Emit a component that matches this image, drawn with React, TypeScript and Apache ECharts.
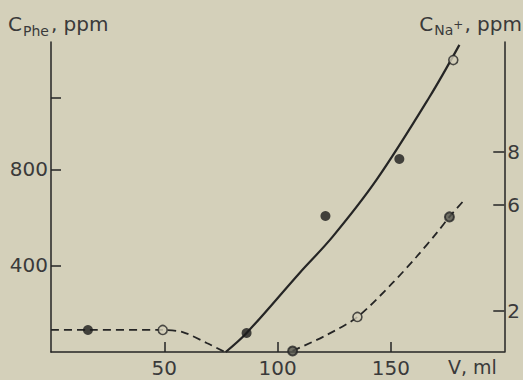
import React, { useEffect, useRef } from "react";
import * as echarts from "echarts";

// Axis ticks / labels
const volumeTicks = [50, 100, 150];
const pheTicks = [400, 800, 1100];
const pheLabels = [400, 800];
const naTicks = [2, 6, 8];

// Solid curve: C(Phe), ppm (left axis) vs V, ml
const pheCurveV = [77.1, 86.3, 109.7, 124.2, 143.6, 167.0, 180.2];
const pheCurveC = [40, 119, 369, 519, 756, 1101, 1318];

// Dashed curve: C(Na+), ppm (right axis) vs V, ml — two segments
const naLeftV = [0, 16.3, 49.3, 58.1, 68.7, 76.7];
const naLeftC = [1.28, 1.28, 1.28, 1.2, 0.79, 0.45];
const naRightV = [106.6, 121.6, 135.2, 150.7, 161.2, 170.5, 175.8, 182.8];
const naRightC = [0.49, 1.09, 1.77, 3.05, 4.03, 4.97, 5.54, 6.22];

// Measured points
const pheFilledV = [86.3, 121.1, 153.7];
const pheFilledC = [119, 606, 843];
const pheOpenV = [177.5];
const pheOpenC = [1255];
const naFilledV = [16.3];
const naFilledC = [1.28];
const naOpenV = [49.3, 135.2];
const naOpenC = [1.28, 1.77];
const naHalfV = [106.6, 175.8];
const naHalfC = [0.49, 5.54];

const zip = (a: number[], b: number[]) => a.map((v, i) => [v, b[i]]);

const FONT = "DejaVu Sans";
const INK = "#252525";
const TEXT = "#3a3a3a";
const BG = "#d4d0ba";

export default function App() {
  const ref = useRef<HTMLDivElement>(null);
  useEffect(() => {
    if (!ref.current) return;
    const chart = echarts.init(ref.current, undefined, { renderer: "svg" });
    const axisLine = { show: true, onZero: false, lineStyle: { color: INK, width: 1.5 } };
    const labelStyle = { color: TEXT, fontSize: 20, fontFamily: FONT };
    chart.setOption({
      animation: false,
      backgroundColor: BG,
      grid: { left: 51, right: 18, top: 42, bottom: 28, containLabel: false },
      xAxis: {
        type: "value",
        min: 0,
        max: 200,
        axisLine,
        axisTick: { show: true, inside: true, length: 10, customValues: volumeTicks, lineStyle: { color: INK, width: 1.5 } },
        axisLabel: { ...labelStyle, margin: 6, customValues: volumeTicks },
        splitLine: { show: false },
      },
      yAxis: [
        {
          type: "value",
          position: "left",
          min: 40,
          max: 1330,
          axisLine,
          axisTick: { show: true, inside: true, length: 10, customValues: pheTicks, lineStyle: { color: INK, width: 1.5 } },
          axisLabel: { ...labelStyle, margin: 3, customValues: pheLabels },
          splitLine: { show: false },
        },
        {
          type: "value",
          position: "right",
          min: 0.45,
          max: 12.13,
          axisLine,
          axisTick: { show: true, inside: true, length: 11, customValues: naTicks, lineStyle: { color: INK, width: 1.5 } },
          axisLabel: { ...labelStyle, margin: 3, customValues: naTicks },
          splitLine: { show: false },
        },
      ],
      series: [
        {
          type: "line",
          yAxisIndex: 0,
          data: zip(pheCurveV, pheCurveC),
          smooth: 0.35,
          symbol: "none",
          lineStyle: { color: INK, width: 2.2 },
        },
        {
          type: "line",
          yAxisIndex: 1,
          data: zip(naLeftV, naLeftC),
          smooth: 0.3,
          symbol: "none",
          lineStyle: { color: INK, width: 1.8, type: [8, 5] },
        },
        {
          type: "line",
          yAxisIndex: 1,
          data: zip(naRightV, naRightC),
          smooth: 0.3,
          symbol: "none",
          lineStyle: { color: INK, width: 1.8, type: [8, 5] },
        },
        {
          type: "scatter",
          yAxisIndex: 0,
          data: zip(pheFilledV, pheFilledC),
          symbolSize: 10,
          z: 5,
          itemStyle: { color: "#1c1c1c" },
        },
        {
          type: "scatter",
          yAxisIndex: 0,
          data: zip(pheOpenV, pheOpenC),
          symbolSize: 9,
          z: 5,
          itemStyle: { color: BG, borderColor: INK, borderWidth: 1.6 },
        },
        {
          type: "scatter",
          yAxisIndex: 1,
          data: zip(naFilledV, naFilledC),
          symbolSize: 10,
          z: 5,
          itemStyle: { color: "#1c1c1c" },
        },
        {
          type: "scatter",
          yAxisIndex: 1,
          data: zip(naOpenV, naOpenC),
          symbolSize: 9,
          z: 5,
          itemStyle: { color: BG, borderColor: INK, borderWidth: 1.6 },
        },
        {
          type: "scatter",
          yAxisIndex: 1,
          data: zip(naHalfV, naHalfC),
          symbolSize: 9,
          z: 5,
          itemStyle: { color: "#55554d", borderColor: INK, borderWidth: 2 },
        },
      ],
      graphic: [
        {
          type: "text",
          x: 8,
          y: 14,
          style: {
            text: "{c|C}{s|Phe}{c|, ppm}",
            fill: TEXT,
            rich: {
              c: { fontSize: 20, fontFamily: FONT, fill: TEXT, lineHeight: 22, verticalAlign: "top" },
              s: { fontSize: 14, fontFamily: FONT, fill: TEXT, lineHeight: 16, padding: [10, 2, 0, 1], verticalAlign: "top" },
            },
          },
        },
        {
          type: "text",
          x: 522,
          y: 14,
          style: {
            text: "{c|C}{s|Na}{p|+}{c|, ppm}",
            fill: TEXT,
            align: "right",
            rich: {
              c: { fontSize: 20, fontFamily: FONT, fill: TEXT, lineHeight: 22, verticalAlign: "top" },
              s: { fontSize: 14, fontFamily: FONT, fill: TEXT, lineHeight: 16, padding: [9, 0, 0, 1], verticalAlign: "top" },
              p: { fontSize: 12, fontFamily: FONT, fill: TEXT, lineHeight: 14, padding: [5, 1, 0, 0], verticalAlign: "top" },
            },
          },
        },
        {
          type: "text",
          x: 448,
          y: 367,
          style: {
            text: "V, ml",
            fill: TEXT,
            fontSize: 19,
            fontFamily: FONT,
            verticalAlign: "middle",
          },
        },
      ],
    });
    return () => chart.dispose();
  }, []);
  return (
    <div
      ref={ref}
      style={{ position: "fixed", left: 0, top: 0, width: 523, height: 380 }}
    />
  );
}
